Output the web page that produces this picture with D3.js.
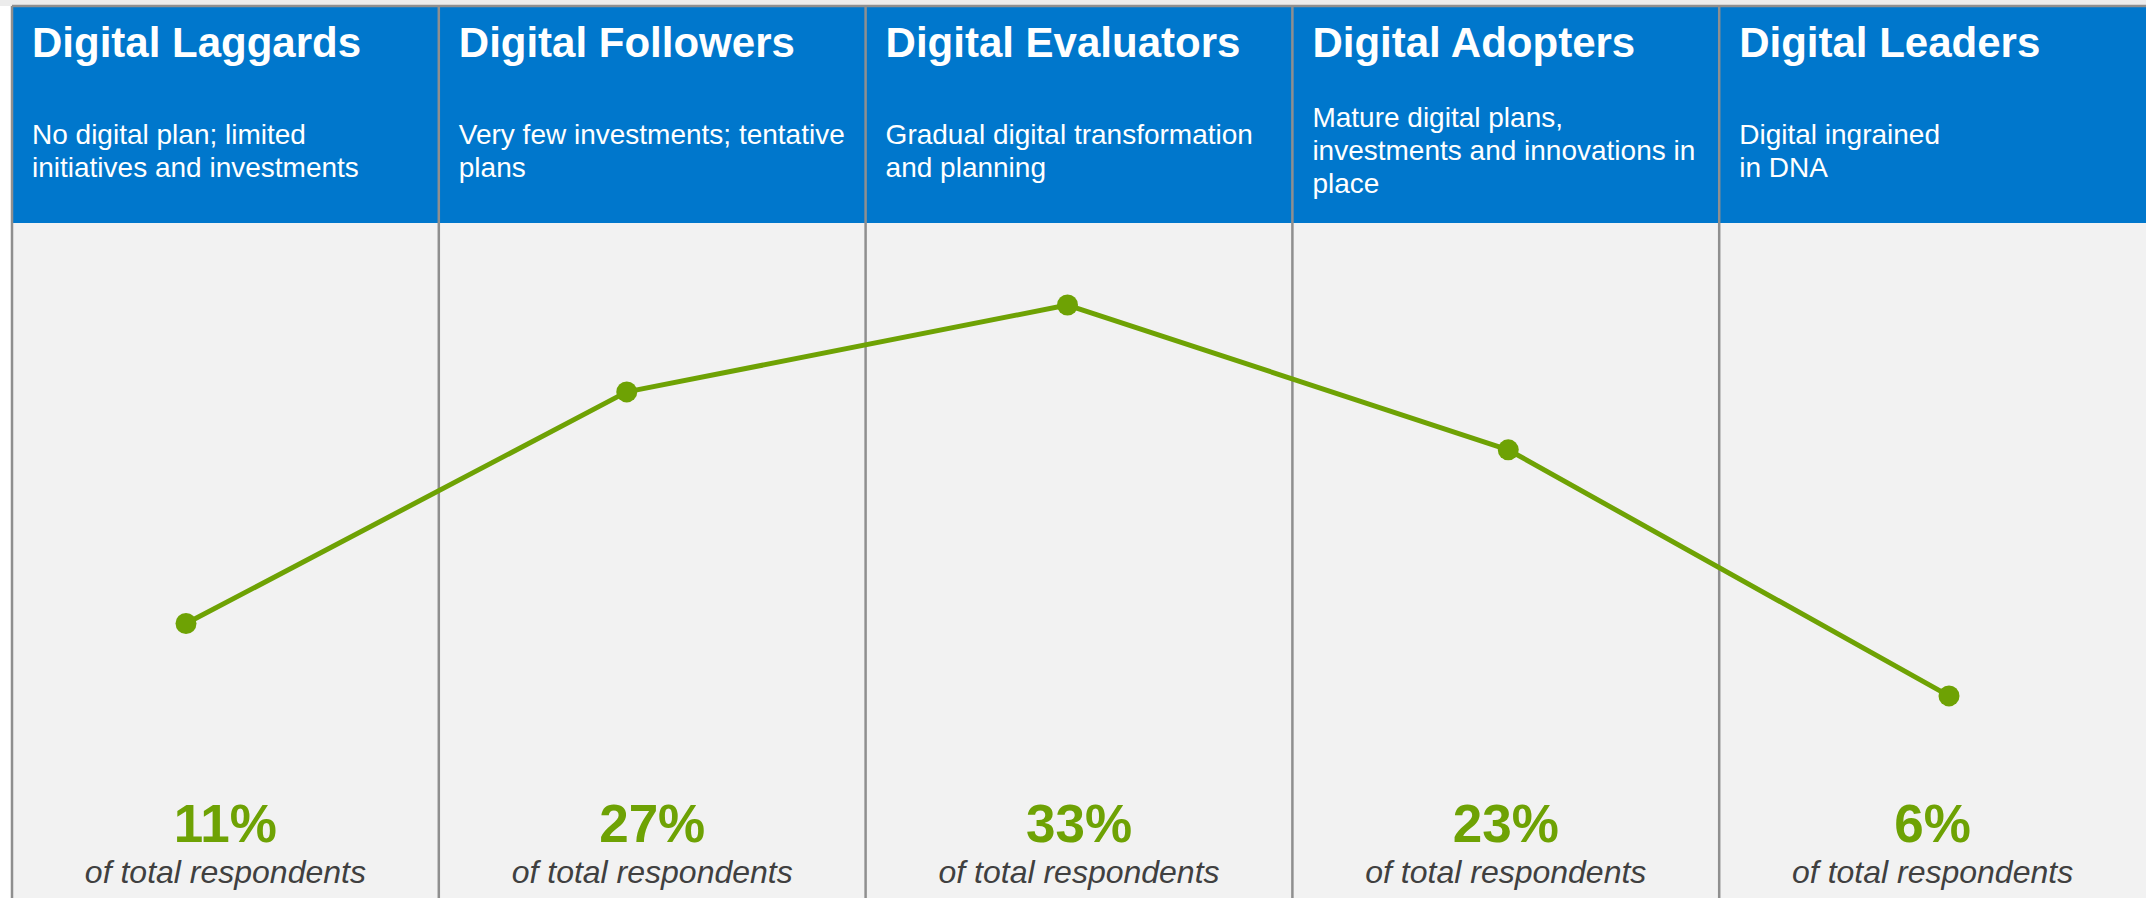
<!DOCTYPE html>
<html>
<head>
<meta charset="utf-8">
<script src="https://cdn.jsdelivr.net/npm/d3@7"></script>
<style>
    html, body { margin: 0; padding: 0; background: #ffffff; }
    svg { display: block; font-family: "Liberation Sans", Arial, sans-serif; }
</style>
</head>
<body>
<svg id="chart" width="2146" height="898"></svg>
<script>
/*global d3*/

// Maturity segments, left to right
var segments = ["Digital Laggards", "Digital Followers", "Digital Evaluators", "Digital Adopters", "Digital Leaders"];

// Header blurbs, one entry per line as printed
var blurbs = [
    ["No digital plan; limited", "initiatives and investments"],
    ["Very few investments; tentative", "plans"],
    ["Gradual digital transformation", "and planning"],
    ["Mature digital plans,", "investments and innovations in", "place"],
    ["Digital ingrained", "in DNA"]
];

// Share of total respondents, percent
var shares = [11, 27, 33, 23, 6];

var shareCaption = "of total respondents";

(function () {
    "use strict";

    var width = 2146,
        height = 898,
        left = 12,
        top = 6,
        headerBottom = 223,
        blue = "#0077cc",
        green = "#6ea204",
        grid = "#8f8f8f",
        svg = d3.select("#chart"),
        rows = segments.map(function (name, i) {
            return { name: name, blurb: blurbs[i], share: shares[i] };
        });

    // columns of the panel
    var col = d3.scaleBand().domain(segments).range([left, width]);
    // the markers sit on their own evenly spaced positions
    var x = d3.scalePoint().domain(segments).range([186, 1949]);
    var y = d3.scaleLinear().domain([0, 40]).range([782.8, 203.7]);

    svg.append("rect")
        .attr("x", 0).attr("y", 0)
        .attr("width", width).attr("height", top)
        .attr("fill", "#ececec");

    svg.append("rect")
        .attr("x", left).attr("y", headerBottom)
        .attr("width", width - left).attr("height", height - headerBottom)
        .attr("fill", "#f2f2f2");

    svg.append("rect")
        .attr("x", left).attr("y", top)
        .attr("width", width - left).attr("height", headerBottom - top)
        .attr("fill", blue);

    // top edge and column rules
    svg.append("line")
        .attr("x1", left).attr("x2", width)
        .attr("y1", top).attr("y2", top)
        .attr("stroke", grid).attr("stroke-width", 2.5);

    svg.append("g").selectAll("line")
        .data(segments)
        .join("line")
        .attr("x1", function (d) { return col(d); })
        .attr("x2", function (d) { return col(d); })
        .attr("y1", top)
        .attr("y2", height)
        .attr("stroke", grid)
        .attr("stroke-width", 2.5);

    var heads = svg.append("g").selectAll("g")
        .data(rows)
        .join("g")
        .attr("transform", function (d) { return "translate(" + (col(d.name) + 20) + ",0)"; });

    heads.append("text")
        .attr("y", 57)
        .attr("fill", "#ffffff")
        .attr("font-size", 42)
        .attr("font-weight", "bold")
        .text(function (d) { return d.name; });

    heads.append("text")
        .attr("fill", "#ffffff")
        .attr("font-size", 28)
        .each(function (d) {
            var t = d3.select(this),
                first = 160 - (d.blurb.length - 1) * 33 / 2;
            d.blurb.forEach(function (line, i) {
                t.append("tspan")
                    .attr("x", 0)
                    .attr("y", first + i * 33)
                    .text(line);
            });
        });

    // the curve
    var line = d3.line()
        .x(function (d) { return x(d.name); })
        .y(function (d) { return y(d.share); });

    svg.append("path")
        .datum(rows)
        .attr("d", line)
        .attr("fill", "none")
        .attr("stroke", green)
        .attr("stroke-width", 5)
        .attr("stroke-linejoin", "round");

    svg.append("g").selectAll("circle")
        .data(rows)
        .join("circle")
        .attr("cx", function (d) { return x(d.name); })
        .attr("cy", function (d) { return y(d.share); })
        .attr("r", 10.5)
        .attr("fill", green);

    // totals along the bottom
    var foot = svg.append("g").selectAll("g")
        .data(rows)
        .join("g")
        .attr("transform", function (d) { return "translate(" + (col(d.name) + col.bandwidth() / 2) + ",0)"; })
        .attr("text-anchor", "middle");

    foot.append("text")
        .attr("y", 842)
        .attr("fill", green)
        .attr("font-size", 53)
        .attr("font-weight", "bold")
        .text(function (d) { return d.share + "%"; });

    foot.append("text")
        .attr("y", 883)
        .attr("fill", "#404040")
        .attr("font-size", 32)
        .attr("font-style", "italic")
        .text(shareCaption);
}());
</script>
</body>
</html>
